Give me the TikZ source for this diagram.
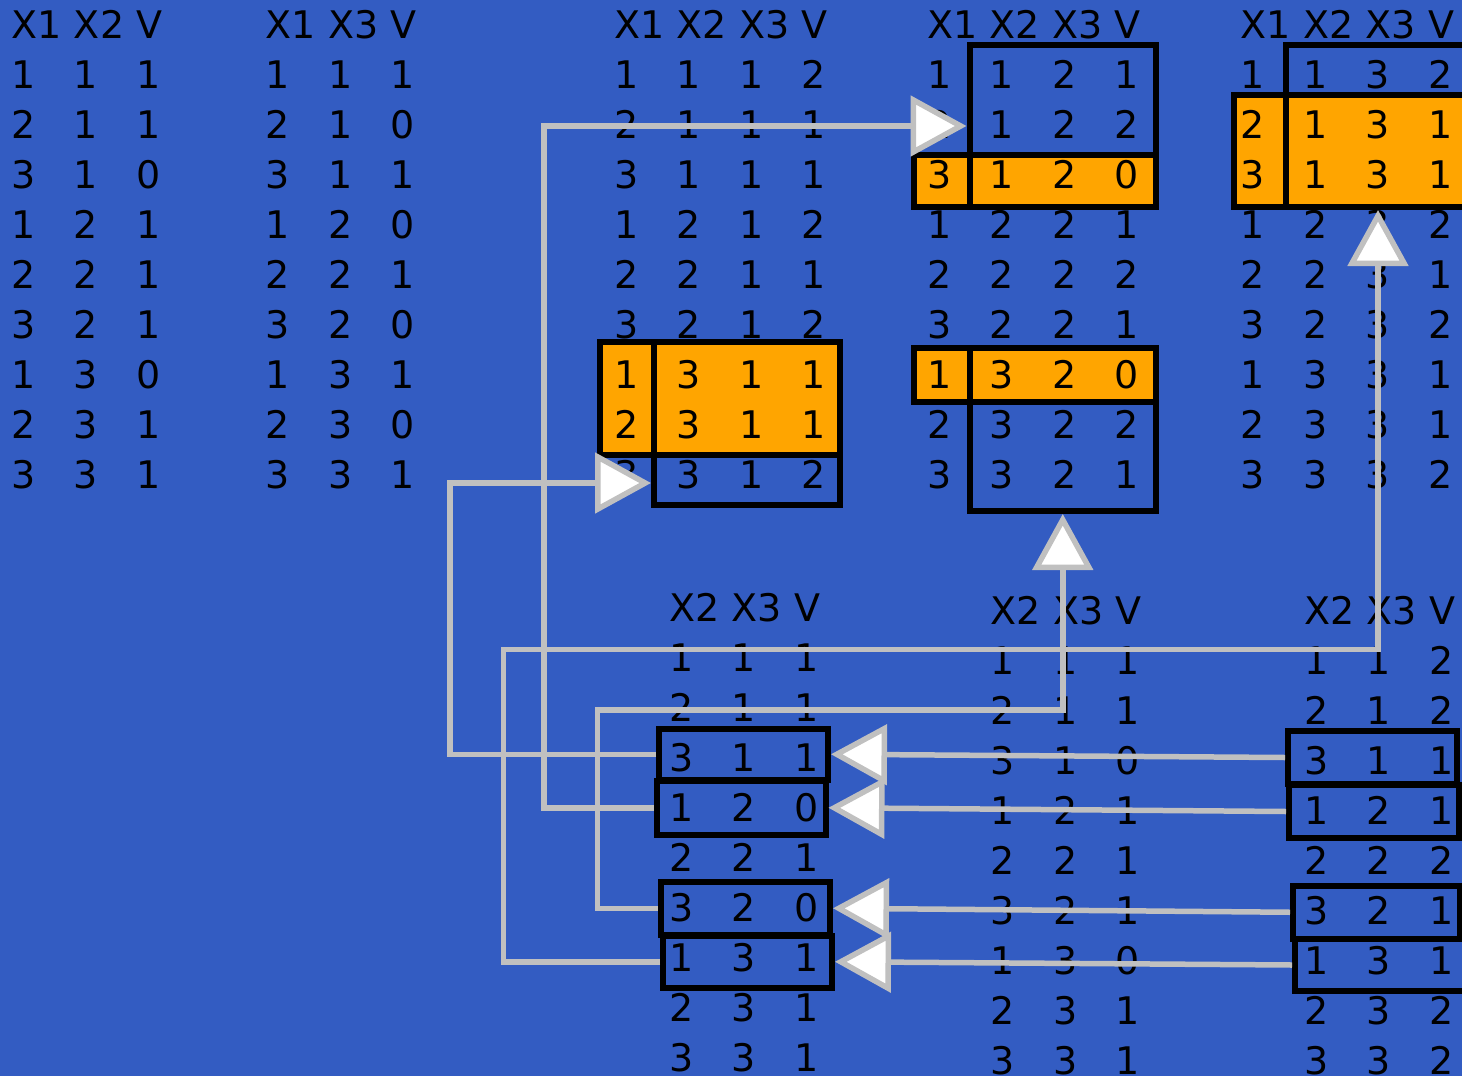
\documentclass[tikz,border=0pt]{standalone}
\usepackage{fontspec}
\setmainfont{DejaVu Sans}
\usepackage{tikz}
\usetikzlibrary{matrix,fit,arrows.meta}
\definecolor{cbg}{RGB}{51,92,194}
\definecolor{chl}{RGB}{255,165,0}
\definecolor{clink}{RGB}{192,192,192}

\begin{document}
\begin{tikzpicture}[x=1pt,y=-1pt,font=\fontsize{38}{46}\selectfont,
  tbl/.style={matrix of nodes,anchor=north west,inner sep=0pt,outer sep=0pt,
    row sep=0pt,column sep=0pt,
    nodes={text width=62.5pt,align=left,inner sep=0pt,outer sep=0pt,
      text height=28.5pt,text depth=21.5pt,anchor=base west}},
  frame/.style={draw=black,line width=6pt,inner sep=0pt,outer sep=3pt},
  hl/.style={frame,fill=chl},
  link/.style={draw=clink,line width=5.5pt,
    -{Triangle[length=56pt,width=60pt,fill=white]}},
]
\fill[cbg] (0,0) rectangle (1462,1076);
\clip (0,0) rectangle (1462,1076);
\useasboundingbox (0,0) rectangle (1462,1076);

% marked rows
\node[hl,fit={(600,342) (654,455)}] (cOa) {};
\node[hl,fit={(654,342) (840,455)}] (cOb) {};
\node[frame,fit={(654,455) (840,504.5)}] (cB) {};
\node[frame,fit={(969.5,44.5) (1155.5,154.5)}] (dT) {};
\node[hl,fit={(913.5,154.5) (969.5,207)}] (dOa) {};
\node[hl,fit={(969.5,154.5) (1155.5,207)}] (dOb) {};
\node[hl,fit={(914,348) (969.5,401.5)}] (dPa) {};
\node[hl,fit={(969.5,348) (1156,401.5)}] (dPb) {};
\node[frame,fit={(969.5,401.5) (1156,511)}] (dB) {};
\node[frame,fit={(1286,44.5) (1470,94.5)}] (eT) {};
\node[hl,fit={(1233.5,94.5) (1286,207)}] (eOa) {};
\node[hl,fit={(1286,94.5) (1470,207)}] (eOb) {};
\node[frame,fit={(659,728.5) (828,780)}] (f3) {};
\node[frame,fit={(656.5,781) (825.5,834.5)}] (f4) {};
\node[frame,fit={(660.5,882) (830,934.5)}] (f6) {};
\node[frame,fit={(663,935.5) (832,988)}] (f7) {};
\node[frame,fit={(1288,731) (1457,784)}] (h3) {};
\node[frame,fit={(1289,785) (1458.5,838)}] (h4) {};
\node[frame,fit={(1293,885.5) (1460,939)}] (h6) {};
\node[frame,fit={(1295,939) (1465,991)}] (h7) {};

% tables
\matrix[tbl] (tA) at (11.5,9.5) {
X1 & X2 & V \\
1 & 1 & 1 \\
2 & 1 & 1 \\
3 & 1 & 0 \\
1 & 2 & 1 \\
2 & 2 & 1 \\
3 & 2 & 1 \\
1 & 3 & 0 \\
2 & 3 & 1 \\
3 & 3 & 1 \\
};
\matrix[tbl] (tB) at (265.5,9.5) {
X1 & X3 & V \\
1 & 1 & 1 \\
2 & 1 & 0 \\
3 & 1 & 1 \\
1 & 2 & 0 \\
2 & 2 & 1 \\
3 & 2 & 0 \\
1 & 3 & 1 \\
2 & 3 & 0 \\
3 & 3 & 1 \\
};
\matrix[tbl] (tC) at (614,9.5) {
X1 & X2 & X3 & V \\
1 & 1 & 1 & 2 \\
2 & 1 & 1 & 1 \\
3 & 1 & 1 & 1 \\
1 & 2 & 1 & 2 \\
2 & 2 & 1 & 1 \\
3 & 2 & 1 & 2 \\
1 & 3 & 1 & 1 \\
2 & 3 & 1 & 1 \\
3 & 3 & 1 & 2 \\
};
\matrix[tbl] (tD) at (927,9.5) {
X1 & X2 & X3 & V \\
1 & 1 & 2 & 1 \\
2 & 1 & 2 & 2 \\
3 & 1 & 2 & 0 \\
1 & 2 & 2 & 1 \\
2 & 2 & 2 & 2 \\
3 & 2 & 2 & 1 \\
1 & 3 & 2 & 0 \\
2 & 3 & 2 & 2 \\
3 & 3 & 2 & 1 \\
};
\matrix[tbl] (tE) at (1240.5,9.5) {
X1 & X2 & X3 & V \\
1 & 1 & 3 & 2 \\
2 & 1 & 3 & 1 \\
3 & 1 & 3 & 1 \\
1 & 2 & 3 & 2 \\
2 & 2 & 3 & 1 \\
3 & 2 & 3 & 2 \\
1 & 3 & 3 & 1 \\
2 & 3 & 3 & 1 \\
3 & 3 & 3 & 2 \\
};
\matrix[tbl] (tF) at (669,593) {
X2 & X3 & V \\
1 & 1 & 1 \\
2 & 1 & 1 \\
3 & 1 & 1 \\
1 & 2 & 0 \\
2 & 2 & 1 \\
3 & 2 & 0 \\
1 & 3 & 1 \\
2 & 3 & 1 \\
3 & 3 & 1 \\
};
\matrix[tbl] (tG) at (990.5,596) {
X2 & X3 & V \\
1 & 1 & 1 \\
2 & 1 & 1 \\
3 & 1 & 0 \\
1 & 2 & 1 \\
2 & 2 & 1 \\
3 & 2 & 1 \\
1 & 3 & 0 \\
2 & 3 & 1 \\
3 & 3 & 1 \\
};
\matrix[tbl] (tH) at (1304,596) {
X2 & X3 & V \\
1 & 1 & 2 \\
2 & 1 & 2 \\
3 & 1 & 1 \\
1 & 2 & 1 \\
2 & 2 & 2 \\
3 & 2 & 1 \\
1 & 3 & 1 \\
2 & 3 & 2 \\
3 & 3 & 2 \\
};

% links
\draw[link] (h3.west) -- (f3.east);
\draw[link] (h4.west) -- (f4.east);
\draw[link] (h6.west) -- (f6.east);
\draw[link] (h7.west) -- (f7.east);
\draw[link] (f3.west) -| (450,483) -- (cB.west |- 0,483);
\draw[link] (f4.west) -| (544,126) -- (dT.west |- 0,126);
\draw[link] (f6.west) -| (597.5,710) -| (dB.south);
\draw[link] (f7.west) -| (503.5,649.5) -| (eOb.south);
\end{tikzpicture}
\end{document}
